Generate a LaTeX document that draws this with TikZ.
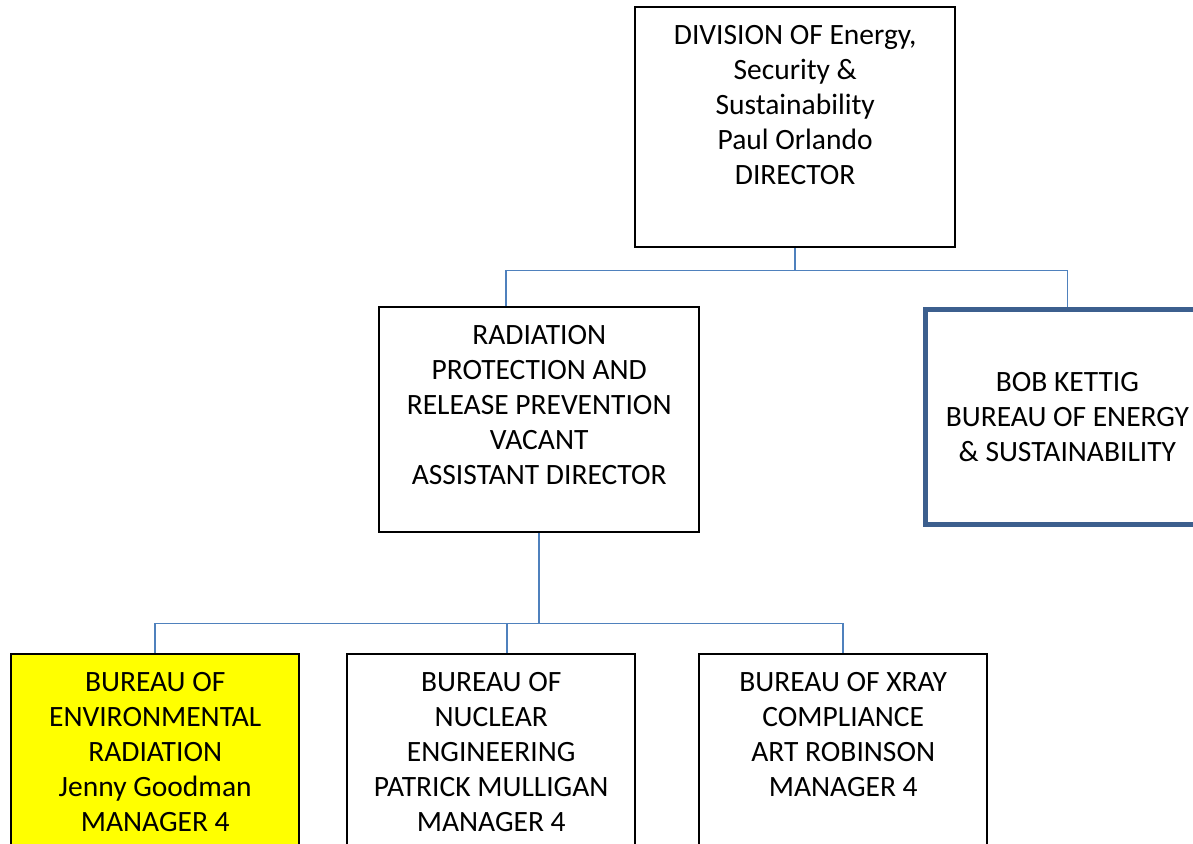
\documentclass[tikz,border=0pt]{standalone}
\usepackage{fontspec}
\setmainfont{Carlito}
\usetikzlibrary{positioning}

\definecolor{linkblue}{HTML}{4F81BD}
\definecolor{bobblue}{HTML}{3C5F8E}
\definecolor{markyellow}{HTML}{FFFF00}

% text set from the top of a box of fixed size
\newcommand{\toptext}[3]{\parbox[c][#2][t]{#1}{\centering\rule{0pt}{37pt}#3}}
\newcommand{\midtext}[3]{\parbox[c][#2][c]{#1}{\centering #3}}

\begin{document}
\begin{tikzpicture}[x = 1pt, y = -1pt, % one unit per pixel, y downwards
                link/.style = {draw = linkblue, line width = 1.6pt}, % connector style
                unit/.style = {draw = black, line width = 2.4pt, inner sep = 0pt,
                    anchor = north west, font = \fontsize{29.5}{35}\selectfont}
            ]

            \useasboundingbox (0,0) rectangle (1193,843);
            \clip (0,0) rectangle (1193,843);

            \node[unit] (dir) at (634,6) {\toptext{320pt}{240pt}{DIVISION OF Energy,\\
                Security \&\\ Sustainability\\ Paul Orlando\\ DIRECTOR}};
            \node[unit] (rad) at (378,306) {\toptext{320pt}{225pt}{RADIATION\\
                PROTECTION AND\\ RELEASE PREVENTION\\ VACANT\\ ASSISTANT DIRECTOR}};
            \node[unit, draw = bobblue, line width = 4.8pt] (bob) at (923,307)
                {\midtext{284pt}{215pt}{BOB KETTIG\\ BUREAU OF ENERGY\\ \& SUSTAINABILITY}};

            \node[unit, fill = markyellow] (envr) at (10,653) {\toptext{288pt}{240pt}{BUREAU OF\\
                ENVIRONMENTAL\\ RADIATION\\ Jenny Goodman\\ MANAGER 4}};
            \node[unit] (nucl) at (346,653) {\toptext{288pt}{240pt}{BUREAU OF\\
                NUCLEAR\\ ENGINEERING\\ PATRICK MULLIGAN\\ MANAGER 4}};
            \node[unit] (xray) at (698,653) {\toptext{288pt}{240pt}{BUREAU OF XRAY\\
                COMPLIANCE\\ ART ROBINSON\\ MANAGER 4}};

            \coordinate (radin) at ([xshift=-33pt]rad.north);
            \coordinate (nuclin) at ([xshift=16pt]nucl.north);

            \draw[link] (dir.south) -- ++(0,22) coordinate (bus1);
            \draw[link] (radin) |- (bus1) -| (bob.north);

            \draw[link] (rad.south) -- ++(0,90) coordinate (bus2);
            \draw[link] (envr.north) |- (bus2) -| (xray.north);
            \draw[link] (nuclin) -- (nuclin |- bus2);

        \end{tikzpicture}
\end{document}
